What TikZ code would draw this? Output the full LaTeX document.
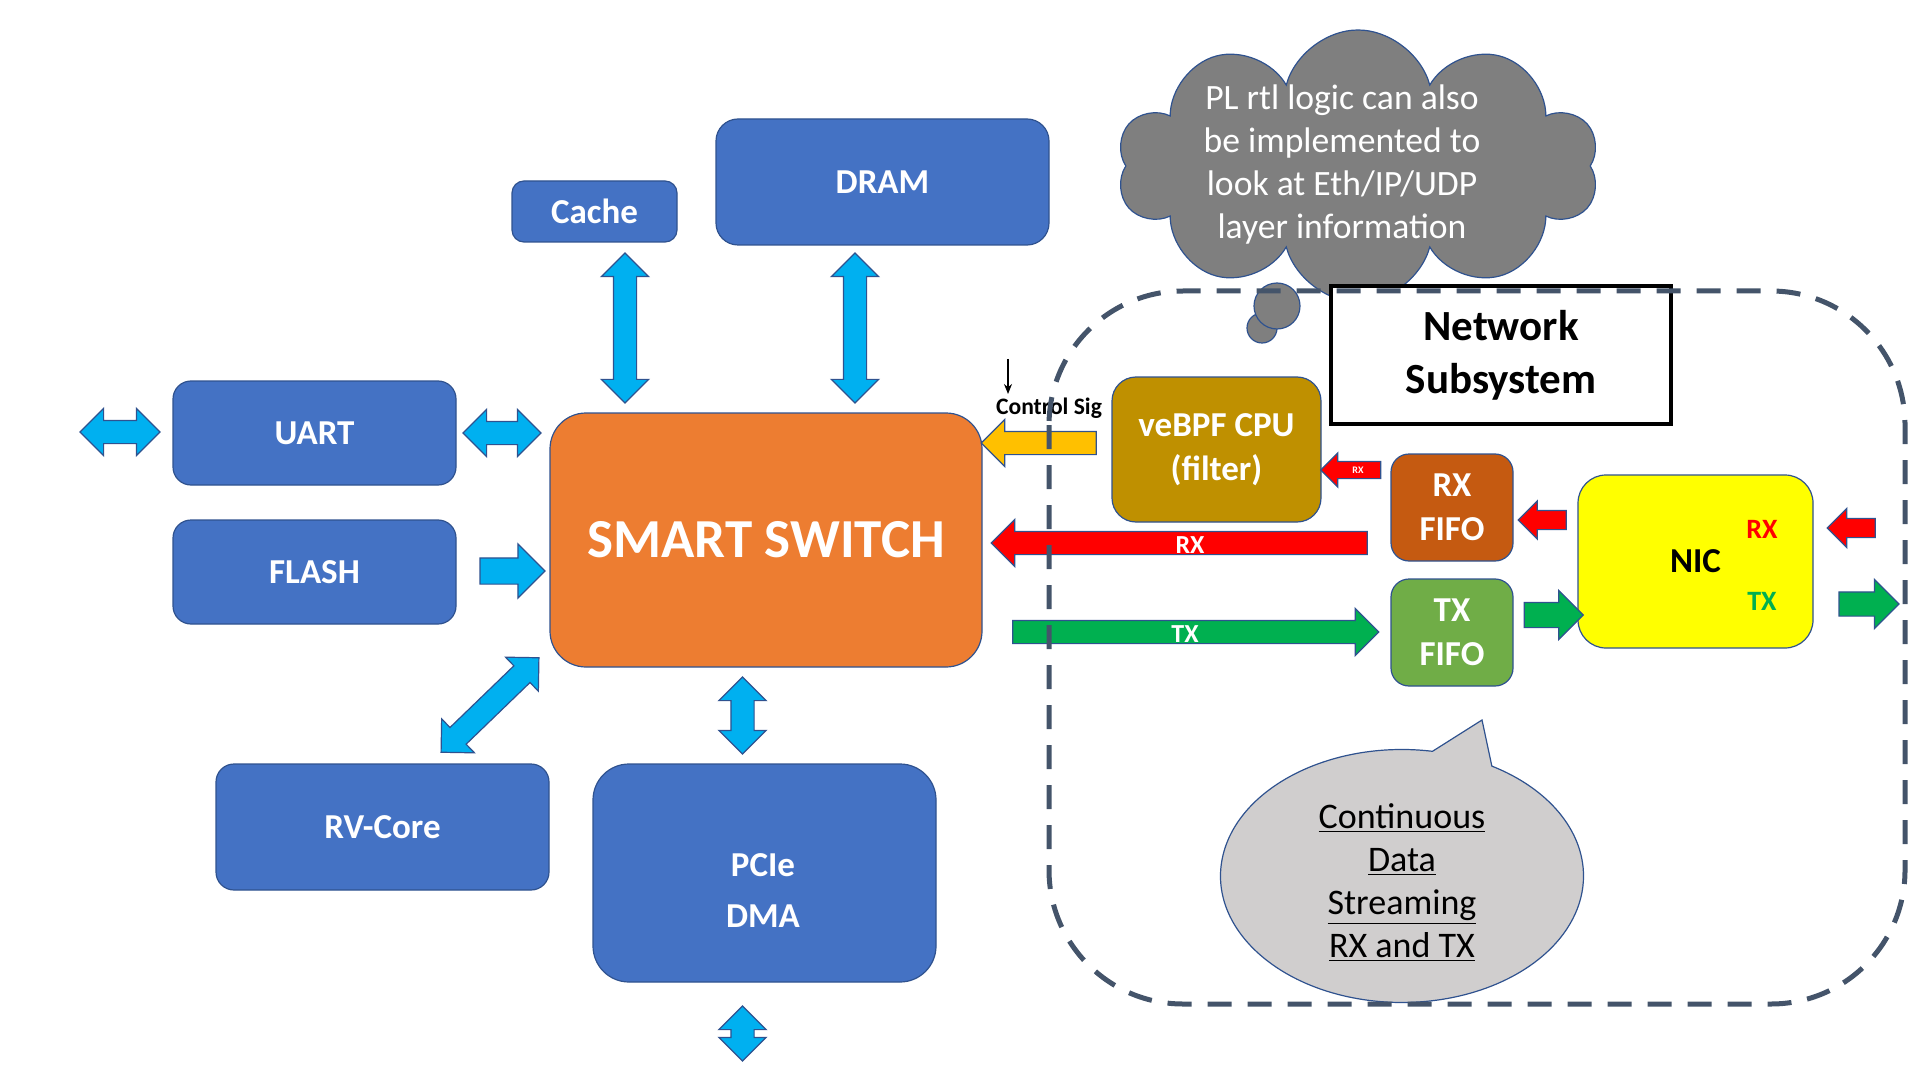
\documentclass[tikz,border=0pt]{standalone}
\usepackage{fontspec}
\setmainfont{Carlito}
\usetikzlibrary{shapes.arrows,shapes.symbols,shapes.callouts,arrows.meta}
\definecolor{Block}{HTML}{4472C4}
\definecolor{Edge}{HTML}{2F528F}
\definecolor{Switch}{HTML}{ED7D31}
\definecolor{Bus}{HTML}{00B0F0}
\definecolor{Filter}{HTML}{BF9000}
\definecolor{RxFifo}{HTML}{C55A11}
\definecolor{TxFifo}{HTML}{70AD47}
\definecolor{Nic}{HTML}{FFFF00}
\definecolor{RxRed}{HTML}{FF0000}
\definecolor{TxGreen}{HTML}{00B050}
\definecolor{Ctrl}{HTML}{FFC000}
\definecolor{Zone}{HTML}{44546A}
\definecolor{Thought}{HTML}{7F7F7F}
\definecolor{Speech}{HTML}{D0CECE}

\begin{document}
\begin{tikzpicture}[x=.5pt,y=-.5pt,
  block/.style={rounded corners=9pt,draw=Edge,line width=.6pt,fill=Block,
   text=white,align=center,inner sep=0pt,
   font=\fontsize{17.5}{22}\selectfont\bfseries},
  duplex/.style={double arrow,draw=Edge,line width=.6pt,fill=Bus,
   inner sep=0pt,inner ysep=5.5pt,double arrow head extend=6pt},
  simplex/.style={single arrow,draw=Edge,line width=.6pt,
   inner sep=0pt,inner ysep=5.5pt,single arrow head extend=6pt},
  buslabel/.style={text=white,inner sep=0pt,font=\fontsize{13}{13}\selectfont\bfseries},
  puff/.style={circle,draw=Edge,line width=.6pt,fill=Thought,inner sep=0pt}]
  \useasboundingbox (0,0) rectangle (1920,1080);

  % thought cloud
  \node[cloud,cloud puffs=10,aspect=1.8,draw=Edge,line width=.6pt,fill=Thought,
    minimum width=241pt,minimum height=136pt,inner sep=0pt] (idea) at (1358,166) {};
  \node[text=white,align=center,font=\fontsize{17.8}{21.5}\selectfont] (ideatext) at (1342,165)
    {PL rtl logic can also\\be implemented to\\look at Eth/IP/UDP\\layer information};
  \node[puff,minimum size=15pt] (puffsmall) at (1262,328) {};
  \node[puff,minimum size=23pt] (puffbig) at (1277,306) {};

  % processing side
  \node[block,minimum width=141.5pt,minimum height=52pt] (uart) at (314.5,433) {UART};
  \node[block,minimum width=141.5pt,minimum height=52pt] (flash) at (314.5,572) {FLASH};
  \node[block,fill=Switch,rounded corners=18pt,minimum width=216pt,minimum height=127pt,
    font=\fontsize{27.5}{30}\selectfont\bfseries] (switch) at (766,540) {SMART SWITCH};
  \node[block,minimum width=166.5pt,minimum height=63pt] (rvcore) at (382.5,827) {RV-Core};
  \node[block,rounded corners=18pt,minimum width=171.5pt,minimum height=109pt] (pcie) at (764.5,873) {};
  \node[text=white,align=center,font=\fontsize{17.5}{25.5}\selectfont\bfseries] (pcietext) at (763,891) {PCIe\\DMA};
  \node[block,rounded corners=6pt,minimum width=82.5pt,minimum height=30.5pt] (cache) at (594.5,211.5) {Cache};
  \node[block,rounded corners=11pt,minimum width=166.5pt,minimum height=63pt] (dram) at (882.5,182) {DRAM};

  % network side
  \node[block,fill=Filter,rounded corners=12pt,minimum width=104.5pt,minimum height=72.5pt] (ebpf) at (1216.5,449.5) {veBPF CPU\\(filter)};
  \node[block,fill=RxFifo,minimum width=61pt,minimum height=53.5pt] (rxfifo) at (1452,507.5) {RX\\FIFO};
  \node[block,fill=TxFifo,minimum width=61pt,minimum height=53.5pt] (txfifo) at (1452,632.5) {TX\\FIFO};
  \node[block,fill=Nic,text=black,rounded corners=14pt,minimum width=117.5pt,minimum height=86.5pt] (nic) at (1695.5,561.5) {NIC};
  \node[text=RxRed,font=\fontsize{14}{14}\selectfont\bfseries] (nicrxtag) at (1762,529) {RX};
  \node[text=TxGreen,font=\fontsize{14}{14}\selectfont\bfseries] (nictxtag) at (1762,601) {TX};
  \node[draw=black,line width=2pt,fill=white,minimum width=170pt,minimum height=68.5pt,align=center,
    font=\fontsize{21.5}{26.5}\selectfont\bfseries] (netsub) at (1501,355) {Network\\Subsystem};

  % blue links
  \node[duplex,minimum height=40pt] (uartext) at (120,432) {};
  \node[duplex,minimum height=39pt] (uartlink) at (502,433) {};
  \node[simplex,fill=Bus,inner ysep=6.25pt,single arrow head extend=7pt,minimum height=32.5pt] (flashlink) at (506,571) {};
  \node[duplex,rotate=90,minimum height=75pt] (cachelink) at (625,328) {};
  \node[duplex,rotate=90,minimum height=75pt] (dramlink) at (855,328) {};
  \node[duplex,rotate=44,minimum height=68pt] (rvlink) at (490,705) {};
  \node[duplex,rotate=90,minimum height=38.5pt] (pcielink) at (742.5,715.5) {};
  \node[duplex,rotate=90,minimum height=27.5pt] (pcieext) at (742.5,1033.5) {};

  % data paths
  \node[simplex,fill=Ctrl,rotate=180,minimum height=57.5pt] (ctrlbus) at (1044.5,443) {};
  \node[font=\fontsize{11.8}{12}\selectfont\bfseries] (ctrltag) at (1049,408) {Control Sig};
  \coordinate (sigtop) at (1008,359);
  \coordinate (sigtip) at (1008,394);
  \draw[-{Stealth[length=5pt,width=4pt]},line width=.7pt] (sigtop) -- (sigtip);
  \node[simplex,fill=RxRed,rotate=180,minimum height=188pt] (rxbus) at (1185,543) {};
  \node[buslabel] at (1190,545) {RX};
  \node[simplex,fill=TxGreen,minimum height=183pt] (txbus) at (1190,632) {};
  \node[buslabel] at (1185,634) {TX};
  \node[simplex,fill=RxRed,rotate=180,inner ysep=4pt,single arrow head extend=4.25pt,minimum height=30pt] (rxtap) at (1355,470) {};
  \node[text=white,font=\fontsize{5}{5}\selectfont\bfseries] at (1358,470) {RX};
  \node[simplex,fill=RxRed,rotate=180,inner ysep=4.5pt,single arrow head extend=4.75pt,minimum height=24pt] (nicrx) at (1547,520) {};
  \node[simplex,fill=TxGreen,inner ysep=6pt,single arrow head extend=6pt,minimum height=29.5pt] (nictx) at (1547.5,615) {};
  \node[simplex,fill=RxRed,rotate=180,inner ysep=4.5pt,single arrow head extend=5pt,minimum height=24pt] (linerx) at (1856,528) {};
  \node[simplex,fill=TxGreen,inner ysep=5.75pt,single arrow head extend=6.25pt,minimum height=30pt] (linetx) at (1863,604) {};

  % streaming note
  \node[ellipse callout,draw=Edge,line width=.6pt,fill=Speech,minimum width=181.5pt,minimum height=126.5pt,
    callout absolute pointer={(1482,720)},callout pointer arc=20] (stream) at (1402,876) {};
  \node[align=center,font=\fontsize{18}{21.5}\selectfont] (streamtext) at (1402,883)
    {\underline{Continuous}\\\underline{Data}\\\underline{Streaming}\\\underline{RX and TX}};

  % subsystem boundary
  \draw[Zone,line width=2.5pt,dash pattern=on 12pt off 8pt,rounded corners=67pt] (1049,291) rectangle (1905,1004);
\end{tikzpicture}
\end{document}
